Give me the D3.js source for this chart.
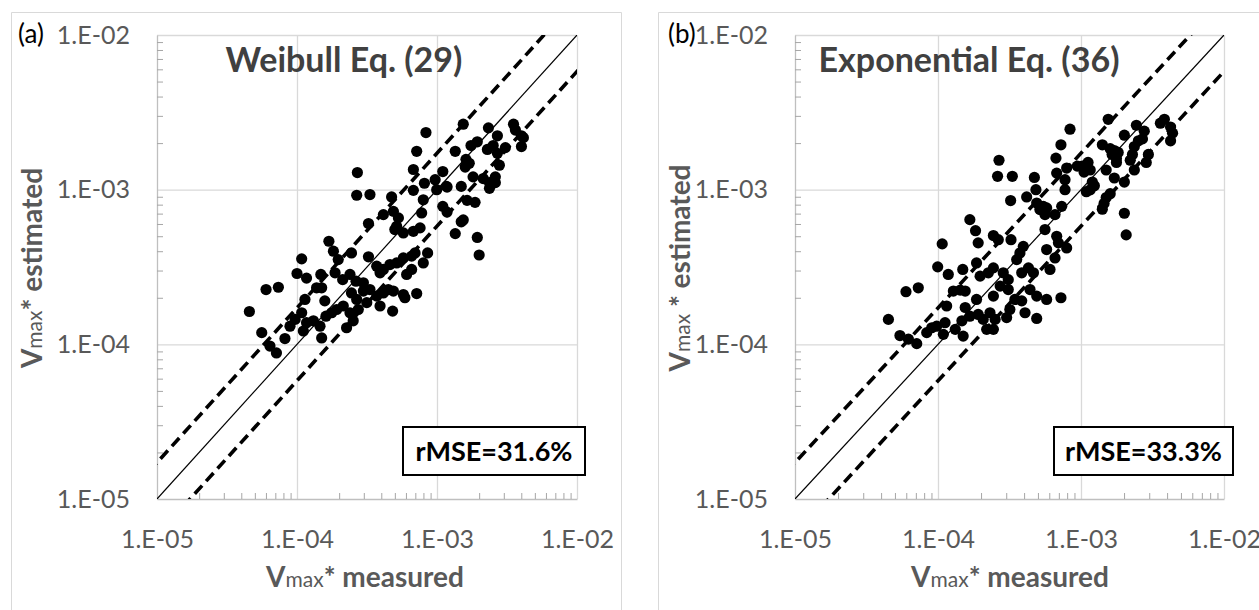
<!DOCTYPE html>
<html>
<head>
<meta charset="utf-8">
<script src="https://cdn.jsdelivr.net/npm/d3@7"></script>
<style>
  body { margin: 0; background: #fff; }
  svg { display: block; font-family: Lato, "Open Sans", sans-serif; }
</style>
</head>
<body>
<svg id="chart" width="1259" height="610"></svg>
<script>
// axis decades and their labels (Excel style)
const decades = [1e-5, 1e-4, 1e-3, 1e-2];
const tickLabels = ["1.E-05", "1.E-04", "1.E-03", "1.E-02"];

// dashed band factor around the 1:1 line
const bandFactor = 1.72;

// (a) Weibull Eq. (29) - measured / estimated Vmax*
const measuredA = [
  8.34e-4, 7.16e-4, 6.78e-4, 1.10e-3, 2.70e-4, 2.67e-4, 3.32e-4, 4.74e-4, 6.78e-4, 8.13e-4,
  9.7e-4, 9.95e-4, 1.17e-3, 4.14e-4, 4.88e-4, 5.3e-4, 5.15e-4, 5.75e-4, 6.78e-4, 7.57e-4,
  7.77e-4, 7.98e-4, 3.24e-4, 5.0e-4, 1.69e-4, 1.82e-4, 1.97e-4, 2.45e-4, 3.24e-4, 1.08e-4,
  1.0e-4, 1.17e-4, 1.48e-4, 1.87e-4, 2.12e-4, 2.39e-4, 2.64e-4, 2.98e-4, 3.71e-4, 3.92e-4,
  4.14e-4, 4.61e-4, 5.15e-4, 5.75e-4, 6.59e-4, 6.97e-4, 8.57e-4, 7.98e-4, 6.07e-4, 6.59e-4,
  6.01e-5, 7.36e-5, 4.57e-5, 1.38e-4, 1.5e-4, 1.58e-4, 1.14e-4, 1.08e-4, 9.7e-5, 1.17e-4,
  1.31e-4, 1.46e-4, 1.61e-4, 1.77e-4, 1.92e-4, 2.14e-4, 2.45e-4, 2.67e-4, 2.98e-4, 3.32e-4,
  3.71e-4, 4.14e-4, 4.49e-4, 4.88e-4, 5.75e-4, 5.9e-4, 7.16e-4, 2.39e-4, 2.74e-4, 3.15e-4,
  3.92e-4, 4.82e-4, 5.6e-5, 6.41e-5, 8.2e-5, 8.91e-5, 1.11e-4, 1.5e-4, 2.26e-4, 2.52e-4,
  7.13e-5, 1.10e-3, 1.18e-3, 1.18e-3, 1.35e-3, 1.35e-3, 1.49e-3, 1.49e-3, 1.54e-3, 1.54e-3,
  1.59e-3, 1.61e-3, 1.64e-3, 1.75e-3, 1.81e-3, 1.87e-3, 1.94e-3, 1.94e-3, 2.0e-3, 2.14e-3,
  2.29e-3, 2.33e-3, 2.37e-3, 2.37e-3, 2.52e-3, 2.61e-3, 2.70e-3, 2.79e-3, 3.52e-3, 3.63e-3,
  4.01e-3, 4.01e-3, 4.14e-3, 1.70e-3, 2.61e-3, 3.08e-3, 2.70e-3
];
const estimatedA = [
  2.34e-3, 1.77e-3, 1.35e-3, 1.31e-3, 1.29e-3, 9.2e-4, 9.3e-4, 8.97e-4, 9.9e-4, 1.10e-3,
  1.16e-3, 1.0e-3, 1.05e-3, 6.9e-4, 7.24e-4, 6.57e-4, 5.8e-4, 5.25e-4, 5.38e-4, 5.66e-4,
  7.07e-4, 8.6e-4, 6.04e-4, 5.52e-4, 4.64e-4, 4.0e-4, 3.53e-4, 3.9e-4, 3.68e-4, 3.57e-4,
  2.87e-4, 2.68e-4, 2.83e-4, 2.9e-4, 2.62e-4, 2.83e-4, 2.56e-4, 2.5e-4, 3.2e-4, 2.9e-4,
  3.05e-4, 3.28e-4, 3.36e-4, 3.62e-4, 3.72e-4, 3.9e-4, 3.9e-4, 3.36e-4, 2.83e-4, 3.05e-4,
  2.26e-4, 2.34e-4, 1.63e-4, 2.32e-4, 2.32e-4, 1.91e-4, 1.95e-4, 1.6e-4, 1.45e-4, 1.38e-4,
  1.42e-4, 1.31e-4, 1.52e-4, 1.6e-4, 1.68e-4, 1.77e-4, 2.15e-4, 1.95e-4, 2.21e-4, 2.26e-4,
  2.05e-4, 2.15e-4, 2.26e-4, 2.21e-4, 2.1e-4, 2.0e-4, 2.13e-4, 1.6e-4, 1.68e-4, 1.86e-4,
  1.77e-4, 1.64e-4, 1.19e-4, 9.75e-5, 1.09e-4, 1.31e-4, 1.22e-4, 1.1e-4, 1.28e-4, 1.42e-4,
  8.8e-5, 7.8e-4, 7.16e-4, 1.04e-3, 1.77e-3, 5.2e-4, 1.05e-3, 6.2e-4, 2.65e-3, 6.37e-4,
  1.40e-3, 1.57e-3, 8.53e-4, 1.93e-3, 1.21e-3, 8.28e-4, 2.04e-3, 4.91e-4, 3.78e-4, 1.18e-3,
  1.82e-3, 2.51e-3, 1.11e-3, 1.02e-3, 1.93e-3, 1.21e-3, 2.23e-3, 1.44e-3, 2.65e-3, 2.43e-3,
  2.23e-3, 1.90e-3, 2.17e-3, 1.48e-3, 1.11e-3, 1.87e-3, 1.72e-3
];

// (b) Exponential Eq. (36)
const measuredB = [
  8.38e-4, 7.24e-4, 6.68e-4, 7.94e-4, 6.76e-4, 7.73e-4, 9.42e-4, 7.73e-4, 2.67e-4, 2.61e-4,
  3.31e-4, 4.72e-4, 4.84e-4, 4.17e-4, 3.22e-4, 4.9e-4, 5.45e-4, 5.16e-4, 5.75e-4, 5.6e-4,
  6.58e-4, 7.33e-4, 1.67e-4, 1.83e-4, 2.44e-4, 2.64e-4, 3.24e-4, 1.91e-4, 5.6e-4, 6.76e-4,
  6.95e-4, 7.94e-4, 6.58e-4, 5.75e-4, 3.95e-4, 3.74e-4, 3.55e-4, 4.29e-4, 3.85e-4, 4.65e-4,
  6.07e-4, 1.07e-4, 9.95e-5, 1.18e-4, 1.49e-4, 1.86e-4, 1.97e-4, 2.25e-4, 2.44e-4, 2.86e-4,
  3.1e-4, 1.28e-4, 1.43e-4, 1.55e-4, 1.15e-4, 1.55e-4, 1.86e-4, 2.44e-4, 2.72e-4, 3.1e-4,
  3.45e-4, 3.85e-4, 4.4e-4, 4.9e-4, 5.75e-4, 7.24e-4, 5.97e-5, 7.28e-5, 4.5e-5, 5.42e-5,
  6.21e-5, 7.1e-5, 8.34e-5, 9.04e-5, 9.8e-5, 1.12e-4, 1.09e-4, 1.32e-4, 1.47e-4, 1.5e-4,
  1.67e-4, 1.91e-4, 2.07e-4, 2.31e-4, 2.51e-4, 2.19e-4, 2.44e-4, 3.02e-4, 3.18e-4, 4.06e-4,
  4.9e-4, 1.02e-3, 1.05e-3, 1.12e-3, 1.16e-3, 1.20e-3, 1.09e-3, 1.16e-3, 1.24e-3, 1.41e-3,
  1.50e-3, 1.55e-3, 1.60e-3, 1.65e-3, 1.71e-3, 1.77e-3, 1.82e-3, 1.41e-3, 1.50e-3, 1.60e-3,
  1.71e-3, 1.77e-3, 2.01e-3, 2.01e-3, 2.01e-3, 2.07e-3, 2.21e-3, 2.36e-3, 2.44e-3, 2.36e-3,
  2.52e-3, 2.69e-3, 2.77e-3, 2.86e-3, 2.96e-3, 3.59e-3, 3.83e-3, 4.23e-3, 4.37e-3, 4.23e-3,
  1.45e-3, 2.29e-3
];
const estimatedB = [
  2.46e-3, 1.95e-3, 1.60e-3, 1.38e-3, 1.28e-3, 1.16e-3, 1.42e-3, 1.0e-3, 1.55e-3, 1.22e-3,
  1.22e-3, 1.20e-3, 1.0e-3, 8.97e-4, 8.5e-4, 8.2e-4, 7.8e-4, 7.43e-4, 7.62e-4, 6.9e-4,
  6.9e-4, 7.8e-4, 6.4e-4, 5.43e-4, 5.05e-4, 4.75e-4, 4.75e-4, 4.53e-4, 5.52e-4, 5.0e-4,
  4.53e-4, 4.2e-4, 3.62e-4, 4.1e-4, 4.3e-4, 3.9e-4, 3.53e-4, 3.12e-4, 2.9e-4, 2.9e-4,
  3.05e-4, 4.46e-4, 3.17e-4, 2.83e-4, 3.05e-4, 3.36e-4, 2.76e-4, 2.9e-4, 3.12e-4, 2.9e-4,
  2.62e-4, 2.21e-4, 2.24e-4, 2.21e-4, 1.77e-4, 1.73e-4, 1.95e-4, 2.05e-4, 2.38e-4, 2.26e-4,
  1.95e-4, 1.91e-4, 2.26e-4, 2.05e-4, 1.95e-4, 2.0e-4, 2.19e-4, 2.32e-4, 1.45e-4, 1.14e-4,
  1.08e-4, 1.01e-4, 1.19e-4, 1.28e-4, 1.31e-4, 1.38e-4, 1.16e-4, 1.25e-4, 1.42e-4, 1.13e-4,
  1.52e-4, 1.56e-4, 1.45e-4, 1.6e-4, 1.45e-4, 1.25e-4, 1.25e-4, 1.49e-4, 1.68e-4, 1.6e-4,
  1.47e-4, 1.42e-3, 1.30e-3, 1.50e-3, 1.34e-3, 1.12e-3, 9.7e-4, 9.98e-4, 1.06e-3, 1.95e-3,
  1.34e-3, 2.85e-3, 1.84e-3, 1.69e-3, 1.79e-3, 1.59e-3, 1.74e-3, 7.47e-4, 8.89e-4, 9.42e-4,
  1.19e-3, 1.50e-3, 1.12e-3, 2.25e-3, 7.04e-4, 5.1e-4, 1.55e-3, 1.34e-3, 2.61e-3, 1.90e-3,
  2.07e-3, 2.13e-3, 2.39e-3, 1.50e-3, 1.69e-3, 2.69e-3, 2.85e-3, 2.54e-3, 2.32e-3, 2.07e-3,
  8.15e-4, 1.69e-3
];

const panels = [
  { tag: "(a)", title: "Weibull Eq. (29)", rmse: "rMSE=31.6%", yTitle: ["V", "max", "* estimated"],
    measured: measuredA, estimated: estimatedA,
    frame: [11, 622], plot: [157, 577, 35, 499], tagX: 18, titleX: 344,
    box: [403, 585, 427, 475], xTitleX: 365, yTitleX: 42 },
  { tag: "(b)", title: "Exponential Eq. (36)", rmse: "rMSE=33.3%", yTitle: ["V", "max", " * estimated"],
    measured: measuredB, estimated: estimatedB,
    frame: [658, 1275], plot: [795, 1224, 35, 499], tagX: 668, titleX: 969,
    box: [1054, 1233, 427, 475], xTitleX: 1010, yTitleX: 690 }
];

const svg = d3.select("#chart");
const labelGrey = "#595959";

panels.forEach((p, pi) => {
  const [x0, x1, y0, y1] = p.plot;
  const g = svg.append("g");

  // outer chart frame (no bottom edge visible)
  g.append("path")
    .attr("d", `M${p.frame[0] + 0.5},620V${12.5}H${p.frame[1] - 0.5}V620`)
    .attr("fill", "none")
    .attr("stroke", "#d9d9d9")
    .attr("stroke-width", 1);

  const x = d3.scaleLog().domain([1e-5, 1e-2]).range([x0, x1]);
  const y = d3.scaleLog().domain([1e-5, 1e-2]).range([y1, y0]);

  const minors = [];
  decades.slice(0, 3).forEach(d => { for (let k = 2; k < 10; k++) minors.push(k * d); });

  // gridlines
  g.append("g")
    .attr("transform", `translate(0,${y1})`)
    .call(d3.axisBottom(x).tickValues(decades.slice(1)).tickSize(-(y1 - y0)).tickFormat(""))
    .call(a => a.select(".domain").remove())
    .call(a => a.selectAll("line").attr("stroke", "#d9d9d9").attr("stroke-width", 1.3));
  g.append("g")
    .attr("transform", `translate(${x0},0)`)
    .call(d3.axisLeft(y).tickValues(decades.slice(1)).tickSize(-(x1 - x0)).tickFormat(""))
    .call(a => a.select(".domain").remove())
    .call(a => a.selectAll("line").attr("stroke", "#d9d9d9").attr("stroke-width", 1.3));

  // minor ticks (inside) and axis lines
  g.append("g")
    .attr("transform", `translate(0,${y1})`)
    .call(d3.axisBottom(x).tickValues(minors).tickSizeInner(-6).tickSizeOuter(0).tickFormat(""))
    .call(a => a.select(".domain").attr("stroke", "#bfbfbf").attr("stroke-width", 1.3))
    .call(a => a.selectAll("line").attr("stroke", "#a6a6a6"));
  g.append("g")
    .attr("transform", `translate(${x0},0)`)
    .call(d3.axisLeft(y).tickValues(minors).tickSizeInner(-6).tickSizeOuter(0).tickFormat(""))
    .call(a => a.select(".domain").attr("stroke", "#bfbfbf").attr("stroke-width", 1.3))
    .call(a => a.selectAll("line").attr("stroke", "#a6a6a6"));

  // tick labels
  const xl = g.append("g")
    .attr("transform", `translate(0,${y1})`)
    .call(d3.axisBottom(x).tickValues(decades).tickSize(0).tickPadding(31)
      .tickFormat((d, i) => tickLabels[i]));
  const yl = g.append("g")
    .attr("transform", `translate(${x0},0)`)
    .call(d3.axisLeft(y).tickValues(decades).tickSize(0).tickPadding(27)
      .tickFormat((d, i) => tickLabels[i]));
  [xl, yl].forEach(a => {
    a.select(".domain").remove();
    a.selectAll("text")
      .attr("font-family", "Lato, sans-serif")
      .attr("font-size", 25)
      .attr("fill", labelGrey);
  });

  // reference lines, clipped to the plot area
  const clipId = "clip" + pi;
  svg.append("clipPath").attr("id", clipId)
    .append("rect").attr("x", x0).attr("y", y0).attr("width", x1 - x0).attr("height", y1 - y0);
  const lineGen = d3.line().x(d => x(d[0])).y(d => y(d[1]));
  const lines = g.append("g").attr("clip-path", `url(#${clipId})`);
  lines.append("path")
    .attr("d", lineGen([[1e-5, 1e-5], [1e-2, 1e-2]]))
    .attr("stroke", "#000").attr("stroke-width", 1.2).attr("fill", "none");
  [bandFactor, 1 / bandFactor].forEach(f => {
    lines.append("path")
      .attr("d", lineGen([[1e-5 / 2, f * 1e-5 / 2], [2e-2, f * 2e-2]]))
      .attr("stroke", "#000").attr("stroke-width", 3.6).attr("fill", "none")
      .attr("stroke-dasharray", "11,6");
  });

  // data points
  g.append("g")
    .selectAll("circle")
    .data(p.measured.map((m, i) => [m, p.estimated[i]]))
    .join("circle")
    .attr("cx", d => x(d[0]))
    .attr("cy", d => y(d[1]))
    .attr("r", 5.6)
    .attr("fill", "#000");

  // panel tag and title
  g.append("text")
    .attr("x", p.tagX).attr("y", 43)
    .attr("font-size", 26).attr("fill", "#000")
    .text(p.tag);
  g.append("text")
    .attr("x", p.titleX).attr("y", 72)
    .attr("text-anchor", "middle")
    .attr("font-size", 34).attr("font-weight", "bold").attr("fill", "#404040")
    .text(p.title);

  // rMSE box
  const [bx0, bx1, by0, by1] = p.box;
  g.append("rect")
    .attr("x", bx0).attr("y", by0).attr("width", bx1 - bx0).attr("height", by1 - by0)
    .attr("fill", "#fff").attr("stroke", "#000").attr("stroke-width", 2);
  g.append("text")
    .attr("x", (bx0 + bx1) / 2).attr("y", by0 + 34)
    .attr("text-anchor", "middle")
    .attr("font-size", 27).attr("font-weight", "bold").attr("fill", "#000")
    .text(p.rmse);

  // axis titles
  const xt = g.append("text")
    .attr("x", p.xTitleX).attr("y", 587)
    .attr("text-anchor", "middle")
    .attr("font-size", 28).attr("font-weight", "bold").attr("fill", labelGrey);
  xt.append("tspan").text("V");
  xt.append("tspan").attr("font-size", 21).attr("font-weight", "normal").text("max");
  xt.append("tspan").text("* measured");

  const yt = g.append("text")
    .attr("transform", `translate(${p.yTitleX},268) rotate(-90)`)
    .attr("text-anchor", "middle")
    .attr("font-size", 28).attr("font-weight", "bold").attr("fill", labelGrey);
  yt.append("tspan").text(p.yTitle[0]);
  yt.append("tspan").attr("font-size", 21).attr("font-weight", "normal").text(p.yTitle[1]);
  yt.append("tspan").text(p.yTitle[2]);
});
</script>
</body>
</html>
